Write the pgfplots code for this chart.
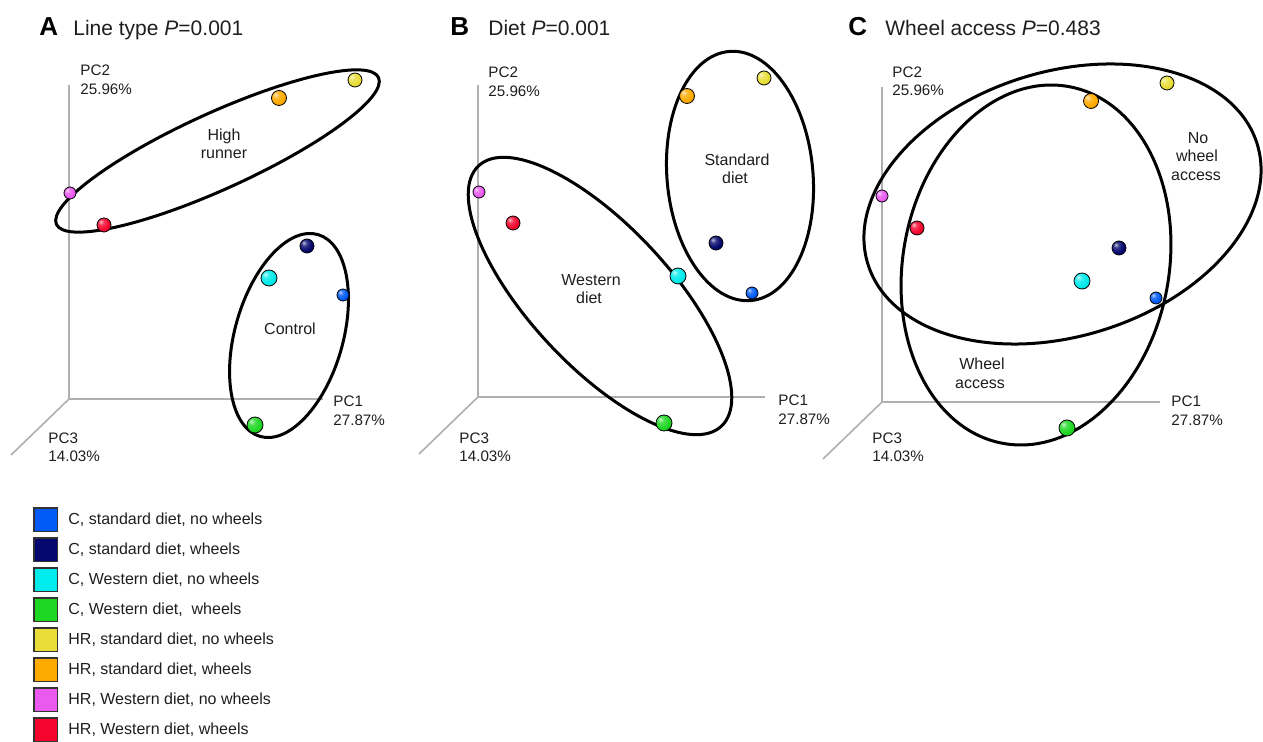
\documentclass[border=0pt]{standalone}
\usepackage{pgfplots}
\pgfplotsset{compat=1.18}
\usepackage{fontspec}
\setmainfont{Liberation Sans}
\definecolor{cblue}{RGB}{0,90,245}
\definecolor{cnavy}{RGB}{5,8,110}
\definecolor{ccyan}{RGB}{0,235,235}
\definecolor{cgreen}{RGB}{30,215,35}
\definecolor{cyellow}{RGB}{232,222,55}
\definecolor{corange}{RGB}{255,170,0}
\definecolor{cmagenta}{RGB}{235,90,240}
\definecolor{cred}{RGB}{245,5,45}
\definecolor{txt}{RGB}{30,30,30}
\definecolor{axgray}{RGB}{175,175,175}
\makeatletter
\pgfdeclareradialshading[tikz@ball]{ball}{\pgfqpoint{-12bp}{12bp}}{%
  color(0bp)=(tikz@ball!25!white);
  color(10bp)=(tikz@ball!80!white);
  color(24bp)=(tikz@ball);
  color(40bp)=(tikz@ball!85!black);
  color(55bp)=(tikz@ball!60!black);
  color(70bp)=(tikz@ball!50!black)}
\makeatother
\pgfplotsset{
  sq/.style={legend image code/.code={\draw[fill=#1,draw=black!80,line width=0.9pt] (0.45pt,-5.8pt) rectangle (12.05pt,5.8pt);}},
  ball/.style 2 args={only marks, mark=ball, mark size=#2, mark options={ball color=#1}, sq=#1},
}
\begin{document}
\begin{tikzpicture}[
  lbl/.style={font=\fontsize{7.6}{9}\selectfont, text=txt, inner sep=0pt, text height=0.72em, text depth=0pt, anchor=west},
  glbl/.style={font=\fontsize{8}{9.6}\selectfont, text=txt, inner sep=0pt, text height=0.72em, text depth=0pt, anchor=center},
  ttl/.style={font=\fontsize{10.5}{12}\selectfont, text=txt, inner sep=0pt, anchor=base west},
  big/.style={font=\fontsize{13}{15}\selectfont\bfseries, text=black, inner sep=0pt, anchor=base west},
  ell/.style={line width=1.5pt, black, overlay},
]
\begin{axis}[
  width=631.5pt, height=371pt, scale only axis,
  xmin=0, xmax=1263, ymin=0, ymax=742, y dir=reverse,
  axis line style={draw=none}, xtick=\empty, ytick=\empty,
  clip=false,
  legend style={at={(axis cs:33,507)}, anchor=north west, draw=none, fill=none, overlay,
    inner sep=0pt, row sep=2.5pt, column sep=5pt,
    nodes={inner sep=0pt, text=txt, font=\fontsize{8}{9.6}\selectfont}},
  legend cell align=left,
]
% 3D axes (gray)
\addplot[forget plot, axgray, line width=0.8pt] coordinates {(69,85) (69,399) (323,399)};
\addplot[forget plot, axgray, line width=0.8pt] coordinates {(69,399) (11,455)};
\addplot[forget plot, axgray, line width=0.8pt] coordinates {(478,85) (478,397) (765,397)};
\addplot[forget plot, axgray, line width=0.8pt] coordinates {(478,397) (419,454)};
\addplot[forget plot, axgray, line width=0.8pt] coordinates {(882,87) (882,402) (1160,402)};
\addplot[forget plot, axgray, line width=0.8pt] coordinates {(882,402) (823,459)};

% ellipses
\draw[ell, rotate around={24.5:(axis cs:217.5,151)}] (axis cs:217.5,151) ellipse [x radius=88.5pt, y radius=19pt];
\draw[ell, rotate around={74:(axis cs:289,335.5)}] (axis cs:289,335.5) ellipse [x radius=52.5pt, y radius=27pt];
\draw[ell, rotate around={95:(axis cs:740,176)}] (axis cs:740,176) ellipse [x radius=62.5pt, y radius=36.5pt];
\draw[ell, rotate around={-47:(axis cs:600,296)}] (axis cs:600,296) ellipse [x radius=89pt, y radius=35pt];
\draw[ell, rotate around={17.1:(axis cs:1062.5,204)}] (axis cs:1062.5,204) ellipse [x radius=101.85pt, y radius=66.2pt];
\draw[ell, rotate around={79.4:(axis cs:1036,265)}] (axis cs:1036,265) ellipse [x radius=90.7pt, y radius=66.5pt];

% points: panels A, B, C
\addplot[ball={cblue}{3pt}] coordinates {(343,295) (752,293) (1156,298)};
\addlegendentry{C, standard diet, no wheels}
\addplot[ball={cnavy}{3.5pt}] coordinates {(307,246) (716,243) (1119,248)};
\addlegendentry{C, standard diet, wheels}
\addplot[ball={ccyan}{4pt}] coordinates {(269,278) (678,276) (1082,281)};
\addlegendentry{C, Western diet, no wheels}
\addplot[ball={cgreen}{4pt}] coordinates {(255,425) (664,423) (1067,428)};
\addlegendentry{C, Western diet,\ \ wheels}
\addplot[ball={cyellow}{3.5pt}] coordinates {(355,80) (764,78) (1167,83)};
\addlegendentry{HR, standard diet, no wheels}
\addplot[ball={corange}{3.75pt}] coordinates {(279,98) (687,96) (1091,101)};
\addlegendentry{HR, standard diet, wheels}
\addplot[ball={cmagenta}{3pt}] coordinates {(70,193) (479,192) (882,196)};
\addlegendentry{HR, Western diet, no wheels}
\addplot[ball={cred}{3.5pt}] coordinates {(104,225) (513,223) (917,228)};
\addlegendentry{HR, Western diet, wheels}

% titles
\node[big] at (axis cs:39,36) {A};
\node[ttl] at (axis cs:73,36) {Line type \textit{P}=0.001};
\node[big] at (axis cs:450,36) {B};
\node[ttl] at (axis cs:488,36) {Diet \textit{P}=0.001};
\node[big] at (axis cs:848,36) {C};
\node[ttl] at (axis cs:885,36) {Wheel access \textit{P}=0.483};

% axis labels
\node[lbl] at (axis cs:80,68) {PC2};
\node[lbl] at (axis cs:80,87) {25.96\%};
\node[lbl] at (axis cs:333,399) {PC1};
\node[lbl] at (axis cs:333,418) {27.87\%};
\node[lbl] at (axis cs:48,436) {PC3};
\node[lbl] at (axis cs:48,454) {14.03\%};
\node[lbl] at (axis cs:488,70) {PC2};
\node[lbl] at (axis cs:488,89) {25.96\%};
\node[lbl] at (axis cs:778,398) {PC1};
\node[lbl] at (axis cs:778,417) {27.87\%};
\node[lbl] at (axis cs:459,436) {PC3};
\node[lbl] at (axis cs:459,454) {14.03\%};
\node[lbl] at (axis cs:892,70) {PC2};
\node[lbl] at (axis cs:892,88) {25.96\%};
\node[lbl] at (axis cs:1171,399) {PC1};
\node[lbl] at (axis cs:1171,418) {27.87\%};
\node[lbl] at (axis cs:872,436) {PC3};
\node[lbl] at (axis cs:872,454) {14.03\%};

% group labels
\node[glbl] at (axis cs:224,133) {High};
\node[glbl] at (axis cs:224,151) {runner};
\node[glbl] at (axis cs:290,327) {Control};
\node[glbl] at (axis cs:737,158) {Standard};
\node[glbl] at (axis cs:735,176) {diet};
\node[glbl] at (axis cs:591,278) {Western};
\node[glbl] at (axis cs:589,296) {diet};
\node[glbl] at (axis cs:1198,136) {No};
\node[glbl] at (axis cs:1197,154) {wheel};
\node[glbl] at (axis cs:1196,173) {access};
\node[glbl] at (axis cs:982,362) {Wheel};
\node[glbl] at (axis cs:980,381) {access};
\end{axis}
\end{tikzpicture}
\end{document}
